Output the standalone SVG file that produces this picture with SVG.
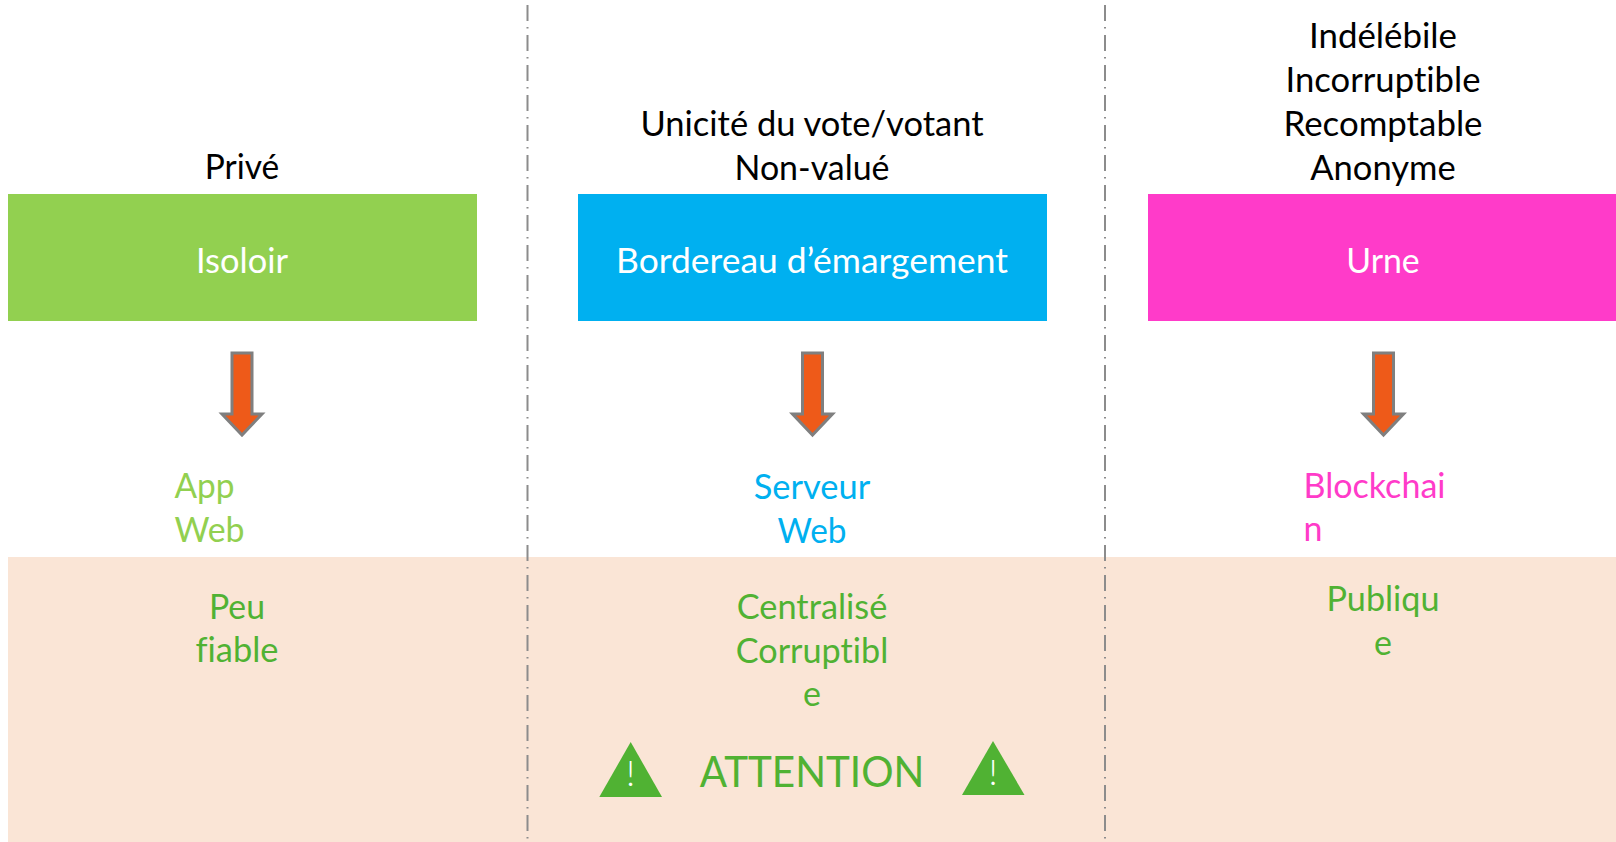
<svg xmlns="http://www.w3.org/2000/svg" width="1616" height="842" viewBox="0 0 1616 842">
<style>
text{font-family:Lato,"Open Sans","Liberation Sans",sans-serif;font-size:34px;text-anchor:middle;font-variant-ligatures:none;font-feature-settings:"liga" 0,"dlig" 0,"clig" 0}
.k{fill:#000}.w{fill:#fff}.g{fill:#92D050}.b{fill:#00B0F0}.p{fill:#FF3BC9}.d{fill:#50B233}
.st{text-anchor:start}
.sep{fill:none;stroke:#8c8c8c;stroke-width:2;stroke-dasharray:16 6 1.5 6.5}
.arrow{fill:#EE5A19;stroke:#7F7F7F;stroke-width:3}
.tri{fill:#50B233}
.ex{font-size:36px;font-weight:300}
</style>
<rect id="band" x="8" y="557" width="1608" height="285" fill="#FAE5D6"/>
<g id="connectors">
<line class="sep" x1="527.5" y1="5" x2="527.5" y2="842"/>
<line class="sep" x1="1105" y1="5" x2="1105" y2="842"/>
<polygon class="arrow" points="232,353 252,353 252,414 262,414 242,435 222,414 232,414"/>
<polygon class="arrow" points="802.5,353 822.5,353 822.5,414 832.5,414 812.5,435 792.5,414 802.5,414"/>
<polygon class="arrow" points="1373.5,353 1393.5,353 1393.5,414 1403.5,414 1383.5,435 1363.5,414 1373.5,414"/>
</g>
<g id="isoloir">
<text class="k" x="242" y="179" textLength="74.5" lengthAdjust="spacingAndGlyphs">Privé</text>
<rect x="8" y="194" width="469" height="127" fill="#92D050"/>
<text class="w" x="242" y="273" textLength="92" lengthAdjust="spacingAndGlyphs">Isoloir</text>
<text class="g st" x="174.5" y="498" textLength="60" lengthAdjust="spacingAndGlyphs">App</text>
<text class="g st" x="174.5" y="542" textLength="70" lengthAdjust="spacingAndGlyphs">Web</text>
<text class="d" x="237" y="619" textLength="56" lengthAdjust="spacingAndGlyphs">Peu</text>
<text class="d" x="237" y="662" textLength="83" lengthAdjust="spacingAndGlyphs">fiable</text>
</g>
<g id="bordereau">
<text class="k" x="812" y="136" textLength="343" lengthAdjust="spacingAndGlyphs">Unicité du vote/votant</text>
<text class="k" x="812" y="180" textLength="155" lengthAdjust="spacingAndGlyphs">Non-valué</text>
<rect x="578" y="194" width="469" height="127" fill="#00B0F0"/>
<text class="w" x="812" y="273" textLength="392" lengthAdjust="spacingAndGlyphs">Bordereau d’émargement</text>
<text class="b" x="812" y="499" textLength="116.5" lengthAdjust="spacingAndGlyphs">Serveur</text>
<text class="b" x="812" y="543" textLength="69" lengthAdjust="spacingAndGlyphs">Web</text>
<text class="d" x="812" y="619" textLength="150.5" lengthAdjust="spacingAndGlyphs">Centralisé</text>
<text class="d" x="812" y="663" textLength="152.5" lengthAdjust="spacingAndGlyphs">Corruptibl</text>
<text class="d" x="812" y="706">e</text>
</g>
<g id="attention">
<polygon class="tri" points="630.7,742 662,797 599.3,797"/>
<text class="w ex" x="630.7" y="786">!</text>
<text class="d" x="812" y="787" style="font-size:42px" textLength="224.7" lengthAdjust="spacingAndGlyphs">ATTENTION</text>
<polygon class="tri" points="993,741 1024.5,795 962,795"/>
<text class="w ex" x="993" y="785">!</text>
</g>
<g id="urne">
<text class="k" x="1383" y="48" textLength="148" lengthAdjust="spacingAndGlyphs">Indélébile</text>
<text class="k" x="1383" y="92" textLength="195" lengthAdjust="spacingAndGlyphs">Incorruptible</text>
<text class="k" x="1383" y="136" textLength="199" lengthAdjust="spacingAndGlyphs">Recomptable</text>
<text class="k" x="1383" y="180" textLength="145.5" lengthAdjust="spacingAndGlyphs">Anonyme</text>
<rect x="1148" y="194" width="468" height="127" fill="#FF3BC9"/>
<text class="w" x="1383" y="273" textLength="73.5" lengthAdjust="spacingAndGlyphs">Urne</text>
<text class="p st" x="1303.5" y="498" textLength="142" lengthAdjust="spacingAndGlyphs">Blockchai</text>
<text class="p st" x="1303.5" y="541">n</text>
<text class="d" x="1383" y="611" textLength="113" lengthAdjust="spacingAndGlyphs">Publiqu</text>
<text class="d" x="1383" y="655">e</text>
</g>
</svg>
